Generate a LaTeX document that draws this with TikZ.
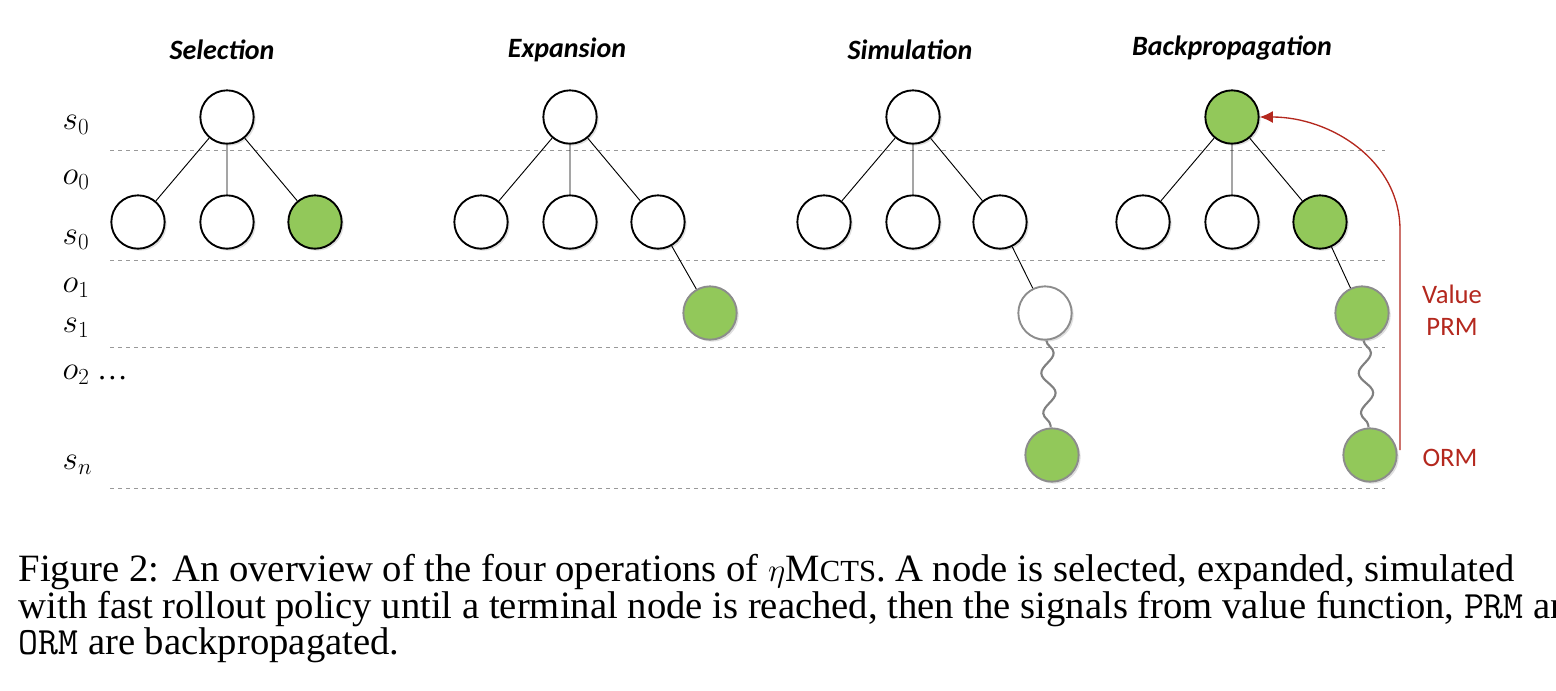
\documentclass[tikz,border=0pt]{standalone}
\usepackage{fontspec}
\setmainfont{Liberation Serif}
\newfontfamily\calfont{Carlito}
\usetikzlibrary{decorations.pathmorphing,shadows,arrows.meta}
\definecolor{gr}{RGB}{146,200,90}
\definecolor{rd}{RGB}{180,40,30}
\begin{document}
\begin{tikzpicture}[x=0.75pt,y=-0.75pt,
 nd/.style={circle,draw=black,line width=1.4pt,minimum size=40pt,inner sep=0pt,fill=white,drop shadow={opacity=0.25,shadow xshift=1.5pt,shadow yshift=-1.5pt}},
 ng/.style={nd,draw=gray!90},
 g/.style={fill=gr},
 ed/.style={line width=0.7pt},
 dl/.style={dashed,gray!80,line width=0.7pt},
 wv/.style={gray,line width=1.6pt,decorate,decoration={snake,amplitude=5pt,segment length=30pt}},
 ttl/.style={font=\calfont\bfseries\itshape\fontsize{21}{24}\selectfont},
 lb/.style={font=\fontsize{23}{26}\selectfont,anchor=west},
 rl/.style={font=\calfont\fontsize{20}{24}\selectfont,text=rd,align=center},
 cp/.style={anchor=west,font=\fontsize{29}{33}\selectfont}]
\useasboundingbox (0,0) rectangle (1556,690);
% titles
\node[ttl] (t1) at (222,50) {Selection};
\node[ttl] (t2) at (567,50) {Expansion};
\node[ttl] (t3) at (910,50) {Simulation};
\node[ttl] (t4) at (1232,48) {Backpropagation};
% left labels
\node[lb] (l1) at (58,125) {$s_0$};
\node[lb] (l2) at (58,180) {$o_0$};
\node[lb] (l3) at (58,240) {$s_0$};
\node[lb] (l4) at (58,288) {$o_1$};
\node[lb] (l5) at (58,328) {$s_1$};
\node[lb] (l6) at (58,375) {$o_2$ \ldots};
\node[lb] (l7) at (58,465) {$s_n$};
% dashed lines
\coordinate (d1a) at (110,150); \coordinate (d1b) at (1385,150);
\coordinate (d2a) at (110,260); \coordinate (d2b) at (1385,260);
\coordinate (d3a) at (110,347); \coordinate (d3b) at (1385,347);
\coordinate (d4a) at (110,488); \coordinate (d4b) at (1385,488);
\draw[dl] (d1a)--(d1b); \draw[dl] (d2a)--(d2b); \draw[dl] (d3a)--(d3b); \draw[dl] (d4a)--(d4b);
% Selection
\node[nd] (a0) at (227,117) {};
\node[nd] (a1) at (138,222) {};
\node[nd] (a2) at (227,222) {};
\node[nd,g] (a3) at (315,222) {};
\draw[ed] (a0)--(a1) (a0)--(a2) (a0)--(a3);
% Expansion
\node[nd] (b0) at (570,117) {};
\node[nd] (b1) at (481,222) {};
\node[nd] (b2) at (570,222) {};
\node[nd] (b3) at (658,222) {};
\node[ng,g] (b4) at (710,313) {};
\draw[ed] (b0)--(b1) (b0)--(b2) (b0)--(b3) (b3)--(b4);
% Simulation
\node[nd] (c0) at (913,117) {};
\node[nd] (c1) at (824,222) {};
\node[nd] (c2) at (913,222) {};
\node[nd] (c3) at (1000,222) {};
\node[ng] (c4) at (1045,313) {};
\node[ng,g] (c5) at (1052,455) {};
\draw[ed] (c0)--(c1) (c0)--(c2) (c0)--(c3) (c3)--(c4);
\draw[wv] (c4)--(c5);
% Backpropagation
\node[nd,g] (e0) at (1232,117) {};
\node[nd] (e1) at (1143,222) {};
\node[nd] (e2) at (1232,222) {};
\node[nd,g] (e3) at (1320,222) {};
\node[ng,g] (e4) at (1362,313) {};
\node[ng,g] (e5) at (1370,455) {};
\draw[ed] (e0)--(e1) (e0)--(e2) (e0)--(e3) (e3)--(e4);
\draw[wv] (e4)--(e5);
\coordinate (r0) at (1400,450);
\draw[rd,line width=1pt,-{Latex[length=10pt,width=9pt]}] (r0) -- (1400,230) .. controls (1400,160) and (1330,117) .. (e0.east);
\node[rl] (v) at (1452,310) {Value\\PRM};
\node[rl] (o) at (1450,458) {ORM};
% caption
\node[cp] (cap1) at (14,572) {Figure 2: An overview of the four operations of $\eta$M{\fontsize{23}{26}\selectfont CTS}. A node is selected, expanded, simulated};
\node[cp] (cap2) at (14,609) {with fast rollout policy until a terminal node is reached, then the signals from value function, {\ttfamily PRM} and};
\node[cp] (cap3) at (14,645) {{\ttfamily ORM} are backpropagated.};
\end{tikzpicture}
\end{document}
